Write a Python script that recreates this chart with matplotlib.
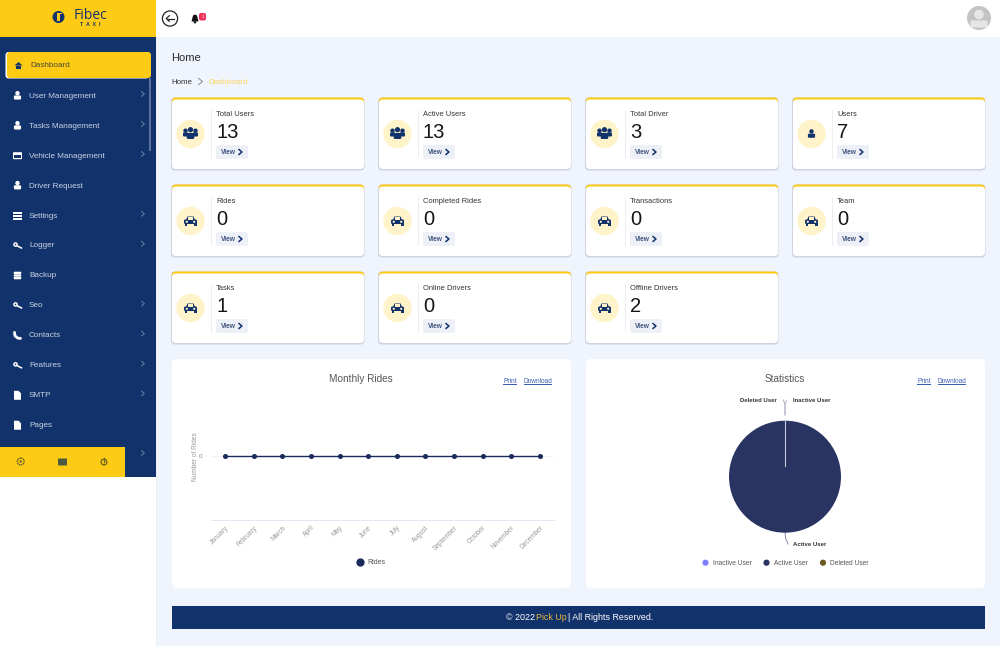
import matplotlib
matplotlib.use("Agg")
import matplotlib.pyplot as plt
from matplotlib.patches import Rectangle, Circle, FancyBboxPatch, Polygon
import numpy as np

plt.rcParams['font.family'] = ['Liberation Sans', 'DejaVu Sans']

NAVY = '#12326b'
YELLOW = '#fecb14'
BG = '#f0f4fd'

# sidebar
menu_items = ["User Management", "Tasks Management", "Vehicle Management", "Driver Request", "Settings",
              "Logger", "Backup", "Seo", "Contacts", "Features", "SMTP", "Pages"]
menu_icons = ["user", "user", "card", "user", "list", "key", "db", "key", "phone", "key", "file", "file"]
menu_arrows = [True, True, True, False, True, True, False, True, True, True, True, False]

# stat cards, row by row
card_titles = ["Total Users", "Active Users", "Total Driver", "Users",
               "Rides", "Completed Rides", "Transactions", "Team",
               "Tasks", "Online Drivers", "Offline Drivers"]
card_values = [13, 13, 3, 7, 0, 0, 0, 0, 1, 0, 2]
card_icons = ["users", "users", "users", "user", "car", "car", "car", "car", "car", "car", "car"]

# charts
months = ["January", "February", "March", "April", "May", "June", "July", "August",
          "September", "October", "November", "December"]
rides = [0, 0, 0, 0, 0, 0, 0, 0, 0, 0, 0, 0]
pie_labels = ["Inactive User", "Active User", "Deleted User"]
pie_values = [0, 13, 0]
pie_colors = ['#8080ff', '#293462', '#6b5a24']

fig = plt.figure(figsize=(10, 6.46), dpi=100)
bg = fig.add_axes([0, 0, 1, 1])
bg.set_xlim(0, 1000)
bg.set_ylim(646, 0)
bg.axis('off')


def rect(x0, y0, x1, y1, color, z=1, **kw):
    bg.add_patch(Rectangle((x0, y0), x1 - x0, y1 - y0, fc=color, ec='none', zorder=z, **kw))


def rbox(x0, y0, x1, y1, fc, r=3, z=2, ec='none', lw=0):
    bg.add_patch(FancyBboxPatch((x0 + r, y0 + r), x1 - x0 - 2 * r, y1 - y0 - 2 * r,
                                boxstyle="round,pad=%g,rounding_size=%g" % (r, r),
                                fc=fc, ec=ec, lw=lw, zorder=z))


def circ(x, y, r, color, z=5, **kw):
    bg.add_patch(Circle((x, y), r, fc=color, ec='none', zorder=z, **kw))


def poly(pts, color, z=5):
    bg.add_patch(Polygon(pts, closed=True, fc=color, ec='none', zorder=z))


def chevron(x, y, color, s=2.5, lw=0.8):
    bg.plot([x - s * 0.6, x + s * 0.6, x - s * 0.6], [y - s, y, y + s], color=color, lw=lw, zorder=6)


def icon(kind, x, y, c, z=6):
    if kind == "user":
        circ(x, y - 2.6, 2.2, c, z)
        rbox(x - 3.6, y - 0.4, x + 3.6, y + 3.8, c, r=1.2, z=z)
    elif kind == "users":
        for dx, dy, s in [(-5, -2, 1.0), (5, -2, 1.0), (0, -3, 1.2)]:
            circ(x + dx, y + dy - 1.3, 2.2 * s, c, z)
        rbox(x - 7.5, y - 1.5, x - 2, y + 2.5, c, r=1, z=z)
        rbox(x + 2, y - 1.5, x + 7.5, y + 2.5, c, r=1, z=z)
        rbox(x - 3.8, y - 1, x + 3.8, y + 5, c, r=1.3, z=z)
    elif kind == "car":
        poly([(x - 4.5, y - 1), (x - 3, y - 4.5), (x + 3, y - 4.5), (x + 4.5, y - 1)], c, z)
        rbox(x - 6.5, y - 1.5, x + 6.5, y + 3, c, r=1.3, z=z)
        rect(x - 6, y + 2, x - 3.3, y + 5, c, z)
        rect(x + 3.3, y + 2, x + 6, y + 5, c, z)
        rect(x - 2.6, y - 3.6, x + 2.6, y - 1.2, '#fff3c9', z + 1)
        circ(x - 3.7, y + 0.8, 1.1, '#fff3c9', z + 1)
        circ(x + 3.7, y + 0.8, 1.1, '#fff3c9', z + 1)
    elif kind == "card":
        rbox(x - 4.5, y - 3.5, x + 4.5, y + 3.5, 'white', r=0.7, z=z)
        rect(x - 3.6, y - 0.8, x + 3.6, y + 2.6, NAVY, z + 1)
    elif kind == "list":
        for dy in (-3, 0, 3):
            rect(x - 4.5, y + dy - 1.1, x + 4.5, y + dy + 1.1, 'white', z)
    elif kind == "key":
        circ(x - 2, y - 1, 2.3, 'white', z)
        circ(x - 2, y - 1, 0.8, NAVY, z + 1)
        bg.plot([x - 1, x + 4], [y, y + 2.5], color='white', lw=1.1, zorder=z)
    elif kind == "db":
        for dy in (-2.6, 0, 2.6):
            rbox(x - 3.8, y + dy - 1.2, x + 3.8, y + dy + 1.2, 'white', r=1, z=z)
    elif kind == "phone":
        bg.plot([x - 3, x - 2.5, x + 0.5, x + 3], [y - 3, y + 0.5, y + 2.8, y + 3],
                color='white', lw=2, solid_capstyle='round', zorder=z)
    elif kind == "file":
        poly([(x - 3.5, y - 4.5), (x + 1, y - 4.5), (x + 3.5, y - 2), (x + 3.5, y + 4.5), (x - 3.5, y + 4.5)], 'white', z)


# page background and bars
rect(0, 0, 1000, 646, BG, 0)
rect(156, 0, 1000, 37, 'white')
rect(0, 0, 156, 36.5, YELLOW)
rect(0, 36.5, 156, 477, NAVY)
rect(0, 477, 156, 646, 'white')
rect(156, 37, 157, 646, '#e9edf6')
rect(0, 447, 125, 477, YELLOW, 2)

# logo
circ(58.5, 17, 6, NAVY)
rect(57, 12.8, 62, 21.2, YELLOW, 6)
rect(59.5, 13.5, 63, 20.5, NAVY, 7)
bg.text(90.5, 15.5, "Fibec", fontsize=10, color=NAVY, ha='center', va='center', family='Open Sans')
bg.text(90.5, 24.5, "T  A  X  I", fontsize=3.8, color=NAVY, ha='center', va='center', weight='bold')

# top bar
bg.add_patch(Circle((170, 18.5), 7.6, fc='white', ec='#222222', lw=0.9, zorder=4))
bg.plot([174, 166.5], [18.5, 18.5], color='#222222', lw=0.9, zorder=5)
bg.plot([169.3, 166.3, 169.3], [15.7, 18.5, 21.3], color='#222222', lw=0.9, zorder=5)
poly([(191.5, 21.5), (193, 15.5), (195, 14.5), (197, 15.5), (198.5, 21.5)], '#111111')
circ(195, 22.3, 1.2, '#111111')
rbox(199, 13, 206, 20.5, '#f0325a', r=2, z=6)
bg.text(202.5, 16.7, "1", fontsize=3.2, color='white', ha='center', va='center', zorder=7)
circ(979, 18, 12, '#c4c4c4')
circ(979, 14.5, 4.8, '#e6e6e6', 6)
bg.add_patch(FancyBboxPatch((972, 22), 14, 4, boxstyle="round,pad=1.5", fc='#e6e6e6', ec='none', zorder=6))

# sidebar menu
rbox(5.5, 52, 149, 78.5, 'white', r=3, z=2)
rbox(7, 52, 151, 78, YELLOW, r=3, z=3)
poly([(14.5, 65.5), (18.5, 62), (22.5, 65.5)], NAVY, 6)
rect(15.8, 65.5, 21.2, 68.5, NAVY, 6)
bg.text(30, 65.8, "Dashboard", fontsize=5.9, color='#444a3a', va='center', zorder=6)
rect(148.5, 78, 150.5, 151, '#5a719c', 2)
for i, (name, ic, arrow) in enumerate(zip(menu_items, menu_icons, menu_arrows)):
    y = 95 + i * 29.95
    icon(ic, 17.5, y + 0.8, 'white')
    bg.text(29, y + 1.2, name, fontsize=5.9, color='#c9d2e3', va='center', zorder=6)
    if arrow:
        chevron(143, y - 1, '#5f769f', s=2.3)
chevron(143, 453, '#5f769f', s=2.3)

# sidebar footer icons
bg.add_patch(Circle((20.7, 461.5), 3.4, fc='none', ec='#6b6326', lw=1, ls=(0, (1.2, 0.4)), zorder=6))
circ(20.7, 461.5, 1.2, '#6b6326', 6)
rbox(58, 458.5, 67, 465.5, '#4b5a40', r=0.8, z=6)
bg.add_patch(Circle((104, 462), 2.9, fc='none', ec='#6b6326', lw=0.9, zorder=6))
bg.plot([104, 104], [458, 461.5], color='#6b6326', lw=0.9, zorder=7)

# heading
bg.text(171.5, 58, "Home", fontsize=8, color='#2b2b2b', va='center')
bg.text(171.5, 82, "Home", fontsize=5.7, color='#333333', va='center')
chevron(200.5, 81.5, '#777777', s=3.2, lw=0.6)
bg.text(208.5, 82, "Dashboard", fontsize=5.8, color='#fbd45c', va='center')

# stat cards
card_xs = [172, 379, 586, 793]
card_ys = [98, 185, 272]
for i, (title, val, ic) in enumerate(zip(card_titles, card_values, card_icons)):
    x = card_xs[i % 4]
    y = card_ys[i // 4]
    rbox(x - 1, y - 0.5, x + 192.5, y + 72.5, '#cfd4e0', r=4, z=1)
    rbox(x, y - 0.5, x + 192, y + 10, YELLOW, r=4, z=2)
    rbox(x, y + 1.5, x + 192, y + 71, 'white', r=4, z=3)
    circ(x + 18.5, y + 36, 14.2, '#fff3c9', 4)
    icon(ic, x + 18.5, y + 36, NAVY)
    rect(x + 39.3, y + 12, x + 40, y + 61, '#eeeef2', 4)
    bg.text(x + 44, y + 16.8, title, fontsize=5.4, color='#333333', va='center', zorder=6)
    bg.text(x + 44, y + 34.5, str(val), fontsize=14.5, color='#151515', va='center', zorder=6)
    rbox(x + 44, y + 47, x + 76, y + 61, '#eef0f7', r=2, z=4)
    bg.text(x + 49, y + 54.6, "View", fontsize=4.8, color='#3f557f', va='center', weight='bold', zorder=6)
    chevron(x + 68.5, y + 54, NAVY, s=2.4, lw=1.1)

# chart panels
rbox(172, 359, 571, 588, 'white', r=5, z=1)
rbox(586, 359, 985, 588, 'white', r=5, z=1)
link = '#3c5fb4'
for xp, xd in [(503, 523.5), (917, 937.5)]:
    bg.text(xp, 381.5, "Print", fontsize=4.7, color=link, va='center', zorder=3)
    bg.text(xd, 381.5, "Download", fontsize=4.7, color=link, va='center', zorder=3)
    rect(xp, 384.3, xp + 13.5, 384.8, link, 3)
    rect(xd, 384.3, xd + 28.8, 384.8, link, 3)
bg.text(361, 378.8, "Monthly Rides", fontsize=7.2, color='#555555', ha='center', va='center', zorder=3)
bg.text(785, 378.8, "Statistics", fontsize=7.2, color='#555555', ha='center', va='center', zorder=3)

# line chart
ax = fig.add_axes([211 / 1000, 1 - 519.5 / 646, 343 / 1000, 126 / 646])
ax.patch.set_alpha(0)
xs = np.arange(len(months))
ax.plot(xs, rides, color='#1b2a5c', lw=1, marker='o', ms=2.6, label="Rides", clip_on=False)
ax.set_xlim(-0.5, 11.5)
ax.set_ylim(-1, 1)
ax.set_yticks([0])
ax.set_yticklabels(["0"], fontsize=4.6, color='#888888')
ax.set_xticks(xs)
ax.set_xticklabels(months, fontsize=4.7, color='#9a9a9a', rotation=45, ha='right', rotation_mode='anchor')
ax.tick_params(length=0)
ax.tick_params(axis='y', pad=6)
ax.tick_params(axis='x', pad=3.5)
ax.grid(axis='y', color='#f0f1f5', lw=0.6)
ax.set_axisbelow(True)
for s in ['top', 'left', 'right']:
    ax.spines[s].set_visible(False)
ax.spines['bottom'].set_color('#e3e7f3')
ax.spines['bottom'].set_linewidth(0.7)
ax.set_ylabel("Number of Rides", fontsize=4.7, color='#999999')
ax.yaxis.set_label_coords(-0.036, 0.5)
ax.legend(loc='center', bbox_to_anchor=(0.472, -0.345), frameon=False,
          fontsize=5, labelcolor='#555555', handlelength=0, handletextpad=1, markerscale=1.9)

# pie chart
ax2 = fig.add_axes([(785 - 60.2) / 1000, 1 - (476.7 + 60.2) / 646, 120.4 / 1000, 120.4 / 646])
wedges, _ = ax2.pie(pie_values, colors=pie_colors, startangle=90, counterclock=False, radius=0.93,
                    wedgeprops=dict(edgecolor='none'))
ax2.set_xlim(-1, 1)
ax2.set_ylim(-1, 1)
ax2.plot([0, 0], [0.17, 0.93], color='#c5c9d8', lw=0.8, zorder=5)

# pie leader lines and labels
bg.plot([785, 785, 783.5], [415, 405, 400], color='#a9a27f', lw=0.6, zorder=3)
bg.plot([785, 785, 786.5], [415, 405, 400], color='#b0b0ee', lw=0.6, zorder=3)
bg.plot([785, 785.5, 788], [532, 538, 544], color='#6d7699', lw=0.6, zorder=3)
bg.text(777, 401, "Deleted User", fontsize=4.3, color='#333333', ha='right', va='center', weight='bold', zorder=3)
bg.text(793.3, 401, "Inactive User", fontsize=4.3, color='#333333', va='center', weight='bold', zorder=3)
bg.text(793.3, 544.8, "Active User", fontsize=4.3, color='#333333', va='center', weight='bold', zorder=3)

leg_dot_x = [705.5, 766.5, 823]
leg_text_x = [712.7, 773.5, 829.7]
for name, col, dx, tx in zip(pie_labels, pie_colors, leg_dot_x, leg_text_x):
    circ(dx, 562.7, 3.1, col, 3)
    bg.text(tx, 563.3, name, fontsize=4.8, color='#555555', va='center', zorder=3)

# footer
rect(172, 606, 985, 629, NAVY)
bg.text(506, 617.8, "© 2022", fontsize=6.4, color='white', va='center', zorder=3)
bg.text(536, 617.8, "Pick Up", fontsize=6.4, color='#e8b93a', va='center', zorder=3)
bg.text(568.5, 617.8, "| All Rights Reserved.", fontsize=6.4, color='white', va='center', zorder=3)

fig.savefig("out.png", dpi=100)
